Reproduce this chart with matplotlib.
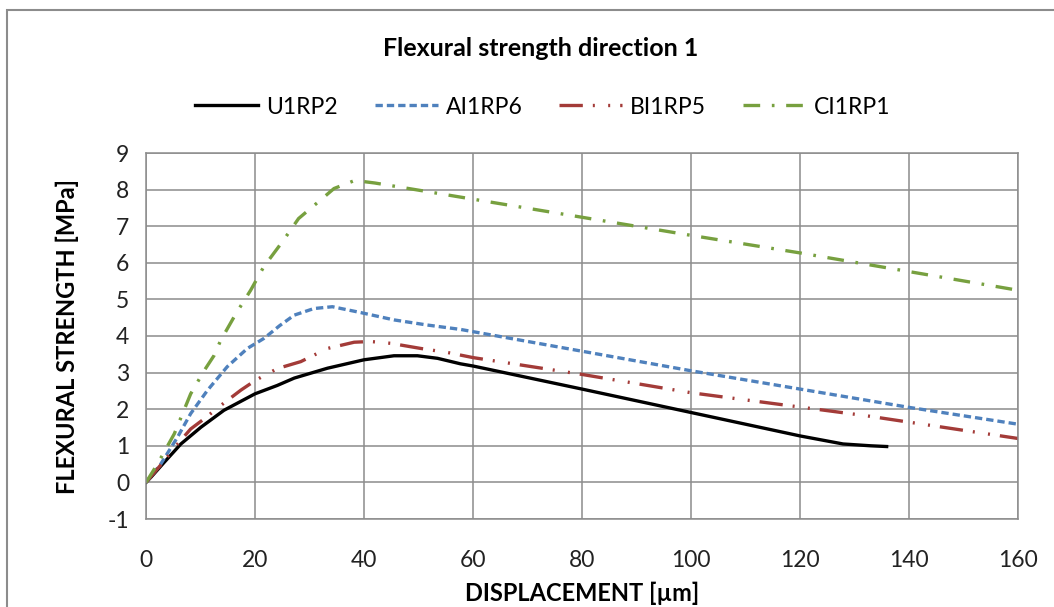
import matplotlib
matplotlib.use("Agg")
import matplotlib.pyplot as plt
from matplotlib.patches import Rectangle

plt.rcParams['font.family'] = ['Lato', 'DejaVu Sans']
plt.rcParams['axes.unicode_minus'] = False

# displacement [um] / flexural strength [MPa]
u1_x = [0, 0.9, 3.35, 6.4, 10.1, 14.3, 20, 24.1, 27.2, 33.3, 40, 45.5, 49.8, 53.5, 57.7,
        60, 80, 100, 120, 127.9, 133, 135.9]
u1_y = [0, 0.14, 0.55, 1.05, 1.51, 1.97, 2.42, 2.65, 2.85, 3.12, 3.35, 3.46, 3.46, 3.39, 3.24,
        3.18, 2.55, 1.91, 1.27, 1.05, 1.0, 0.98]

ai_x = [0, 2.7, 5.8, 8.2, 11.3, 14.9, 18.6, 21.7, 24.5, 27.2, 30.8, 34.2, 39.4, 45.5, 51.6, 57.7,
        100, 140, 160]
ai_y = [0, 0.5, 1.24, 1.88, 2.52, 3.16, 3.66, 3.94, 4.28, 4.57, 4.75, 4.8, 4.64, 4.44, 4.3, 4.18,
        3.05, 2.05, 1.59]

bi_x = [0, 3.35, 5.8, 8.2, 10.7, 13.7, 17.4, 20.1, 24.1, 28.4, 33.3, 38.2, 41.2, 44.9, 50.4, 55.3,
        60, 80, 100, 132.2, 160]
bi_y = [0, 0.59, 1.05, 1.46, 1.74, 2.1, 2.52, 2.79, 3.11, 3.3, 3.66, 3.83, 3.85, 3.8, 3.66, 3.55,
        3.41, 2.95, 2.45, 1.82, 1.2]

ci_x = [0, 2.1, 5.2, 8.2, 10.7, 12.5, 13.7, 16.5, 19.2, 21.6, 25, 28, 32.3, 34.5, 38.3, 42, 49.4,
        100, 120, 160]
ci_y = [0, 0.5, 1.33, 2.42, 3.06, 3.47, 3.88, 4.61, 5.25, 5.89, 6.57, 7.21, 7.75, 8.03, 8.25, 8.18,
        8.0, 6.75, 6.27, 5.25]

x_ticks = [0, 20, 40, 60, 80, 100, 120, 140, 160]
y_ticks = [-1, 0, 1, 2, 3, 4, 5, 6, 7, 8, 9]

fig = plt.figure(figsize=(10.54, 6.07), dpi=100)
ax = fig.add_axes([146 / 1054, 1 - 519 / 607, (1018 - 146) / 1054, (519 - 153) / 607])

lw = 2.4
ax.plot(u1_x, u1_y, color='black', lw=lw, label='U1RP2')
ax.plot(ai_x, ai_y, color='#4F81BD', lw=lw, dashes=(2.2, 1.2), label='AI1RP6')
ax.plot(bi_x, bi_y, color='#A33B38', lw=lw, dashes=(7, 3, 0.6, 4, 0.6, 3), label='BI1RP5')
ax.plot(ci_x, ci_y, color='#77A03F', lw=lw, dashes=(5, 3.5, 0.8, 3.5), label='CI1RP1')

ax.set_xlim(0, 160)
ax.set_ylim(-1, 9)
ax.set_xticks(x_ticks)
ax.set_yticks(y_ticks)
ax.grid(True, color='#8C8C8C', lw=1.1)
ax.set_axisbelow(True)
for s in ax.spines.values():
    s.set_color('#8C8C8C')
    s.set_linewidth(1.1)
ax.tick_params(length=0, labelsize=16.5, colors='#222222')
ax.tick_params(axis='x', pad=22)
ax.tick_params(axis='y', pad=12)

ax.set_xlabel('DISPLACEMENT [µm]', fontsize=17, fontweight='bold', labelpad=8)
ax.set_ylabel('FLEXURAL STRENGTH [MPa]', fontsize=17, fontweight='bold', labelpad=21)

fig.text(0.513, 1 - 48 / 607, 'Flexural strength direction 1', fontsize=18,
         fontweight='bold', ha='center', va='center')

ax.legend(loc='center', bbox_to_anchor=(0.515, 1 - 107 / 607), bbox_transform=fig.transFigure,
          ncol=4, frameon=False, fontsize=16.5, handlelength=2.75, columnspacing=1.6,
          handletextpad=0.35)

# outer chart border (cut off at right and bottom in the original)
fig.patches.append(Rectangle((7 / 1054, -0.1), 1.2, 1 - 10 / 607 + 0.1,
                             transform=fig.transFigure, fill=False,
                             edgecolor='#8C8C8C', lw=1.5))

fig.savefig('out.png', dpi=100)
